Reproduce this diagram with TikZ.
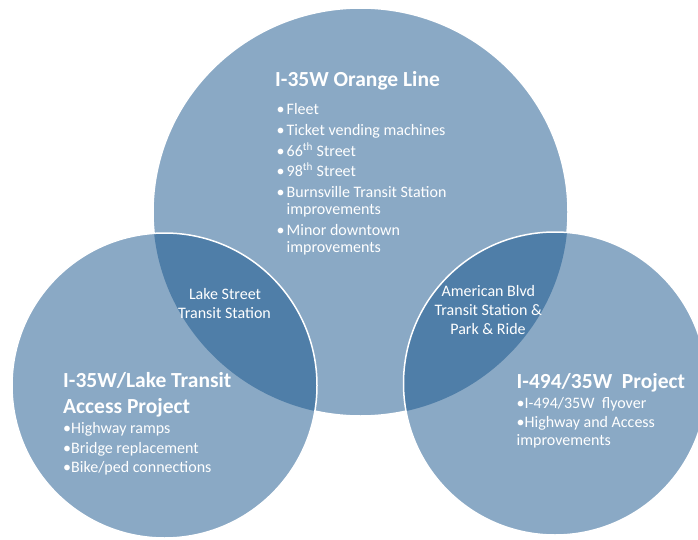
\documentclass[tikz,border=0pt]{standalone}
\usepackage{fontspec}
\setmainfont{Carlito}
\definecolor{lightb}{RGB}{138,169,197}
\definecolor{darkb}{RGB}{79,126,168}
\begin{document}
\begin{tikzpicture}[x=1pt,y=-1pt,
  txt/.style={text=white, inner sep=0pt, anchor=base west, font=\fontsize{16}{18}\selectfont},
  ttl/.style={text=white, inner sep=0pt, anchor=base west, font=\fontsize{21.5}{24}\selectfont\bfseries},
  ctr/.style={txt, anchor=base},
  rim/.style={draw=white, line width=1.5pt}]
\useasboundingbox (0,0) rectangle (698,540);
\coordinate (cT) at (360.5,212);
\coordinate (cL) at (164.5,385.5);
\coordinate (cR) at (555,383.5);
% circles
\fill[lightb] (cT) circle[x radius=207.5pt, y radius=204pt];
\draw[rim] (cT) circle[x radius=207.5pt, y radius=204pt];
\fill[lightb] (cL) circle[radius=152.5pt];
\fill[lightb] (cR) circle[radius=151.5pt];
\begin{scope}
  \clip (cT) circle[x radius=207.5pt, y radius=204pt];
  \fill[darkb] (cL) circle[radius=152.5pt];
  \fill[darkb] (cR) circle[radius=151.5pt];
\end{scope}
\draw[rim] (cL) circle[radius=152.5pt];
\draw[rim] (cR) circle[radius=151.5pt];
% top circle text
\node[ttl] (tT) at (275,87) {I-35W Orange Line};
\node[txt] (bT1) at (276.5,115) {•};   \node[txt] (iT1) at (286.5,115) {Fleet};
\node[txt] (bT2) at (276.5,136) {•};   \node[txt] (iT2) at (286.5,136) {Ticket vending machines};
\node[txt] (bT3) at (276.5,156.5) {•}; \node[txt] (iT3) at (286.5,156.5) {66\textsuperscript{th} Street};
\node[txt] (bT4) at (276.5,176.5) {•}; \node[txt] (iT4) at (286.5,176.5) {98\textsuperscript{th} Street};
\node[txt] (bT5) at (276.5,197.5) {•}; \node[txt] (iT5) at (286.5,197.5) {Burnsville Transit Station};
\node[txt] (iT5b) at (286.5,214.5) {improvements};
\node[txt] (bT6) at (276.5,235.5) {•}; \node[txt] (iT6) at (286.5,235.5) {Minor downtown};
\node[txt] (iT6b) at (286.5,252) {improvements};
% lens texts
\node[ctr] (lk1) at (225,299) {Lake Street};
\node[ctr] (lk2) at (224.5,318) {Transit Station};
\node[ctr] (am1) at (488.3,296) {American Blvd};
\node[ctr] (am2) at (488.3,315) {Transit Station \&};
\node[ctr] (am3) at (488,334) {Park \& Ride};
% left circle text
\node[ttl] (tL1) at (63,387) {I-35W/Lake Transit};
\node[ttl] (tL2) at (63,413) {Access Project};
\node[txt] (iL1) at (63,433) {•Highway ramps};
\node[txt] (iL2) at (63,453) {•Bridge replacement};
\node[txt] (iL3) at (63,472) {•Bike/ped connections};
% right circle text
\node[ttl] (tR) at (516.5,388) {I-494/35W\ \ Project};
\node[txt] (iR1) at (516.5,408) {•I-494/35W\ \ flyover};
\node[txt] (iR2) at (516.5,427) {•Highway and Access};
\node[txt] (iR3) at (516.5,445) {improvements};
\end{tikzpicture}
\end{document}
